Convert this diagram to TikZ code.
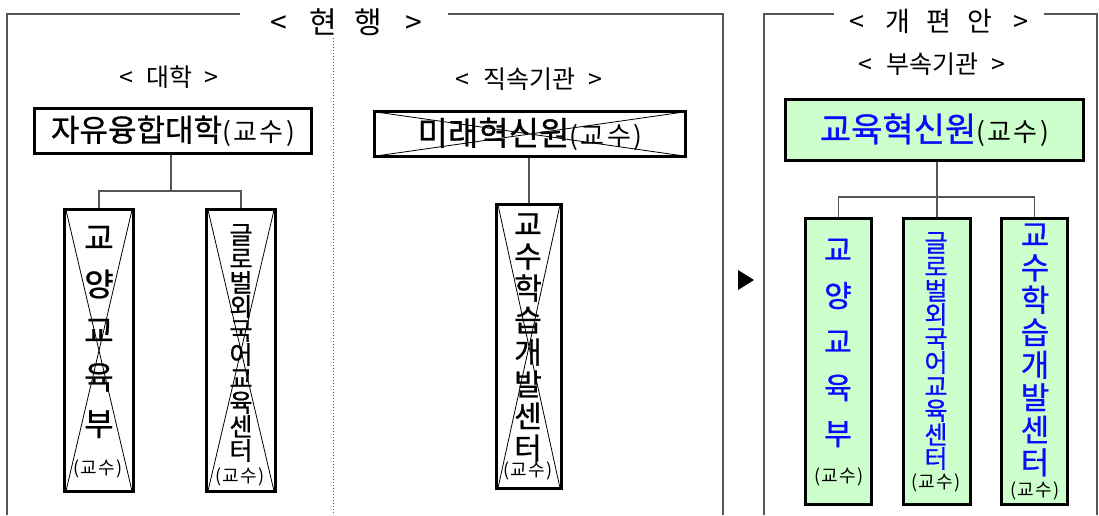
\documentclass[tikz,border=0pt]{standalone}
\usepackage{fontspec}
\setmainfont{Noto Sans CJK KR}
\newfontfamily\medfont{Noto Sans CJK KR}[FakeBold=0.8]
\usetikzlibrary{calc}
\definecolor{boxgreen}{HTML}{CCFFCC}
\definecolor{kblue}{HTML}{0A0AFF}
\definecolor{linegray}{HTML}{555555}
\newcommand{\fs}[2]{\fontsize{#1pt}{#2pt}\selectfont}
\newcommand{\prof}[1]{{\normalfont\fs{#1}{#1}(\kern1pt 교\kern1pt 수\kern1pt)}}
\newcommand{\bigprof}{{\normalfont\fs{26}{26}(\kern2.5pt 교\kern2.5pt 수\kern2.5pt)}}
\begin{document}
\begin{tikzpicture}[x=1pt,y=-1pt,
  frameline/.style={draw=linegray,line width=1.2pt},
  conn/.style={draw=linegray,line width=1.2pt},
  orgbox/.style={draw=black,line width=3pt,inner sep=0pt,anchor=center},
  newbox/.style={orgbox,fill=boxgreen},
  crossline/.style={draw=black,line width=0.8pt},
  vtext/.style={align=center,inner sep=0pt,anchor=center},
  tlt/.style={inner sep=0pt,anchor=center}]
\useasboundingbox (0,0) rectangle (1099,515);

% frames
\draw[frameline] (7,515) -- (7,14) -- (240,14);
\draw[frameline] (448,14) -- (723,14) -- (723,515);
\draw[frameline] (764,515) -- (764,14) -- (834,14);
\draw[frameline] (1044,14) -- (1097,14) -- (1097,515);
\draw[draw=linegray,line width=1pt,dotted] (333,38) -- (333,515);

% titles
\node[tlt] (t1) at (346,22) {\fs{30}{30}\makebox[45pt]{<}\makebox[45pt]{현}\makebox[45pt]{행}\makebox[45pt]{>}};
\node[tlt] (t2) at (939,21) {\fs{27}{27}\makebox[41pt]{<}\makebox[41pt]{개}\makebox[41pt]{편}\makebox[41pt]{안}\makebox[41pt]{>}};
\node[tlt] (s1) at (169,77) {\fs{25}{25}< \hspace{7pt}대학\hspace{7pt} >};
\node[tlt] (s2) at (529,79) {\fs{25}{25}< \hspace{8pt}직속기관\hspace{8pt} >};
\node[tlt] (s3) at (932,64) {\fs{25}{25}< \hspace{8pt}부속기관\hspace{8pt} >};

% current: college
\node[orgbox,minimum width=277pt,minimum height=45pt] (jayu) at (173,131)
  {\medfont\fs{31}{31}자유융합대학\bigprof};
\node[orgbox,minimum width=69pt,minimum height=282pt] (b1) at (99,350.5) {};
\node[orgbox,minimum width=69pt,minimum height=282pt] (b2) at (241,350.5) {};
\foreach \b in {b1,b2}{
  \draw[crossline] ([shift={(3pt,-2pt)}]\b.north west) -- ([shift={(-3pt,2pt)}]\b.south east);
  \draw[crossline] ([shift={(-3pt,-2pt)}]\b.north east) -- ([shift={(3pt,2pt)}]\b.south west);
}
\node[vtext,font=\medfont\fs{32}{46.5}] (b1t) at (99,332) {교\\양\\교\\육\\부};
\node[vtext] (b1p) at (98,469) {\prof{18}};
\node[vtext,font=\medfont\fs{25}{24}] (b2t) at (241,343) {글\\로\\벌\\외\\국\\어\\교\\육\\센\\터};
\node[vtext] (b2p) at (240,477) {\prof{18}};
\coordinate (j1) at (171,191);
\draw[conn] (j1 |- jayu.south) -- (j1);
\draw[conn] (j1) -| (b1.north);
\draw[conn] (j1) -| (b2.north);

% current: direct institution
\node[orgbox,minimum width=311pt,minimum height=45pt] (mirae) at (530,134)
  {\medfont\fs{33}{33}미래혁신원\bigprof};
\draw[crossline] ([shift={(3pt,-2pt)}]mirae.north west) -- ([shift={(-3pt,2pt)}]mirae.south east);
\draw[crossline] ([shift={(3pt,2pt)}]mirae.south west) -- ([shift={(-3pt,-2pt)}]mirae.north east);
\node[orgbox,minimum width=65pt,minimum height=284pt] (m1) at (529,346.5) {};
\draw[crossline] ([shift={(3pt,-2pt)}]m1.north west) -- ([shift={(-3pt,2pt)}]m1.south east);
\draw[crossline] ([shift={(-3pt,-2pt)}]m1.north east) -- ([shift={(3pt,2pt)}]m1.south west);
\node[vtext,font=\medfont\fs{30}{32}] (m1t) at (528,337.5) {교\\수\\학\\습\\개\\발\\센\\터};
\node[vtext] (m1p) at (528,471) {\prof{18}};
\draw[conn] (m1.north |- mirae.south) -- (m1.north);

% arrow
\fill[black] (738,270) -- (754,280) -- (738,290) -- cycle;

% proposal
\node[newbox,minimum width=298pt,minimum height=61pt] (gyo) at (934.5,130)
  {\fs{34}{34}\textcolor{kblue}{\medfont 교육혁신원}\bigprof};
\node[newbox,minimum width=66pt,minimum height=286pt] (r1) at (838.5,361.5) {};
\node[newbox,minimum width=67pt,minimum height=286pt] (r2) at (937,361.5) {};
\node[newbox,minimum width=66pt,minimum height=286pt] (r3) at (1034.5,361.5) {};
\node[vtext,text=kblue,font=\medfont\fs{30}{46}] (r1t) at (838,343) {교\\양\\교\\육\\부};
\node[vtext] (r1p) at (839,477) {\prof{18}};
\node[vtext,text=kblue,font=\medfont\fs{25}{24}] (r2t) at (936,351) {글\\로\\벌\\외\\국\\어\\교\\육\\센\\터};
\node[vtext] (r2p) at (936,483) {\prof{18}};
\node[vtext,text=kblue,font=\medfont\fs{31}{32.5}] (r3t) at (1035,350) {교\\수\\학\\습\\개\\발\\센\\터};
\node[vtext] (r3p) at (1035,491) {\prof{18}};
\coordinate (j2) at (937,197);
\draw[conn] (j2 |- gyo.south) -- (j2);
\draw[conn] (j2) -| (r1.north);
\draw[conn] (j2) -- (r2.north);
\draw[conn] (j2) -| (r3.north);
\end{tikzpicture}
\end{document}
